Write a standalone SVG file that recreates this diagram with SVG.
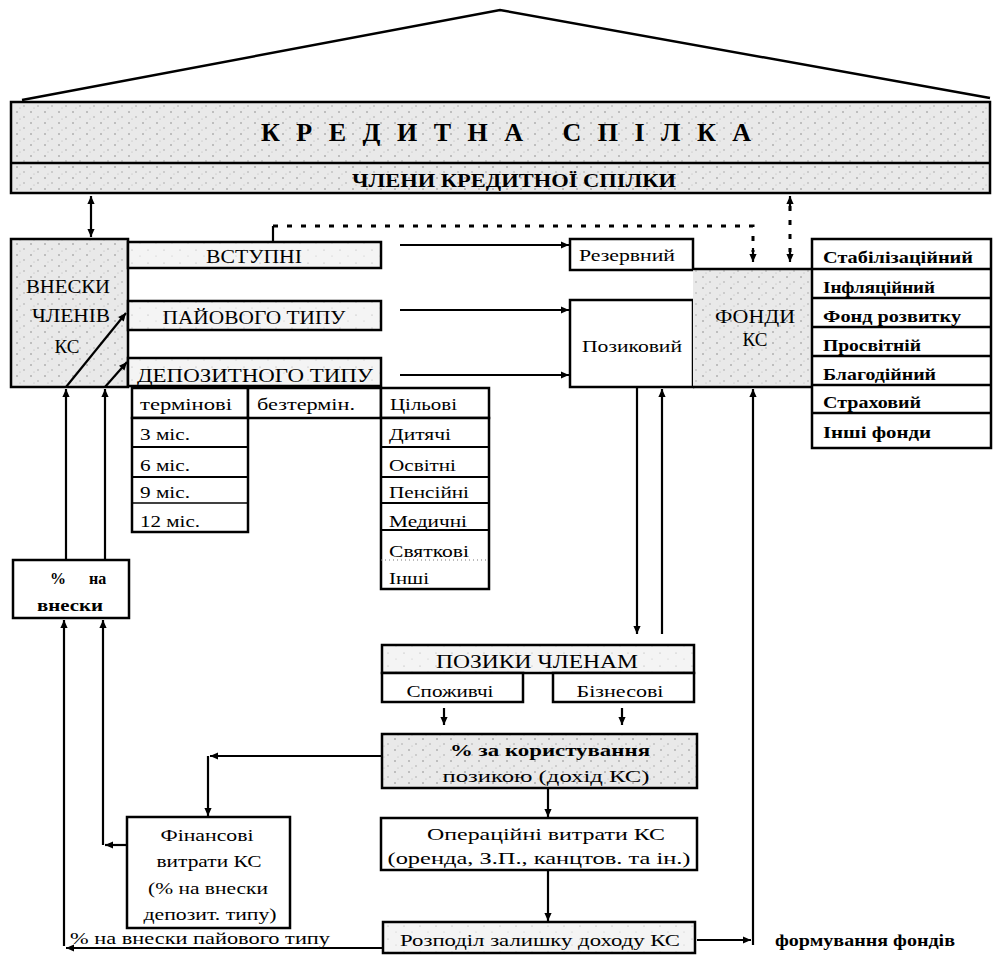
<svg xmlns="http://www.w3.org/2000/svg" width="995" height="955" viewBox="0 0 995 955">
<defs>
<pattern id="sp" width="14" height="11" patternUnits="userSpaceOnUse"><rect width="14" height="11" fill="#e9e9e9"/><circle cx="3" cy="2" r="0.8" fill="#888"/><circle cx="10" cy="7" r="0.7" fill="#999"/><circle cx="6" cy="9" r="0.5" fill="#aaa"/></pattern>
<pattern id="sl" width="16" height="13" patternUnits="userSpaceOnUse"><rect width="16" height="13" fill="#f4f4f4"/><circle cx="4" cy="3" r="0.6" fill="#aaa"/><circle cx="12" cy="9" r="0.5" fill="#bbb"/></pattern>
<marker id="ah" viewBox="0 0 10 10" refX="10" refY="5" markerWidth="10" markerHeight="8" markerUnits="userSpaceOnUse" orient="auto-start-reverse"><path d="M0,0.5 L10,5 L0,9.5 z" fill="#000"/></marker>
</defs>
<style>
.b{fill:#fff;stroke:#000;stroke-width:2.5}
.s{fill:url(#sp);stroke:#000;stroke-width:2.5}
.l{fill:url(#sl);stroke:#000;stroke-width:2.5}
.c{fill:none;stroke:#000;stroke-width:2.2}
.d{fill:none;stroke:#000;stroke-width:3;stroke-dasharray:5 9}
.a{marker-end:url(#ah)}
text{font-family:"Liberation Serif","Times New Roman",serif;fill:#000;font-size:17px}
.m{text-anchor:middle}
.bd{font-weight:bold}
.f15{font-size:15px}
.f16{font-size:16px}
.f18{font-size:18px}
.f19{font-size:19px}
.f26{font-size:26px}
</style>
<rect width="995" height="955" fill="#fff"/>

<g id="roof">
<polyline points="22,100 500,10 990,98" fill="none" stroke="#000" stroke-width="2.5"/>
</g>

<g id="credit-union">
<rect class="s" x="11" y="102" width="979" height="91" stroke-width="3"/>
<line x1="11" y1="163" x2="990" y2="163" stroke="#000" stroke-width="2.5"/>
<text class="m bd f26" x="506" y="141" textLength="490" lengthAdjust="spacing">КРЕДИТНА СПІЛКА</text>
<text class="m bd f18" x="514" y="187" textLength="324" lengthAdjust="spacingAndGlyphs">ЧЛЕНИ КРЕДИТНОЇ СПІЛКИ</text>
</g>

<g id="contributions">
<rect class="s" x="11" y="239" width="117" height="148"/>
<text class="m f19" x="68" y="293" textLength="84" lengthAdjust="spacingAndGlyphs">ВНЕСКИ</text>
<text class="m f19" x="71" y="322" textLength="78" lengthAdjust="spacingAndGlyphs">ЧЛЕНІВ</text>
<text class="m f19" x="67" y="353">КС</text>
</g>

<g id="entry">
<rect class="l" x="128" y="242" width="253" height="26"/>
<text class="m f19" x="254" y="263" textLength="96" lengthAdjust="spacingAndGlyphs">ВСТУПНІ</text>
</g>
<g id="share">
<rect class="l" x="128" y="301" width="253" height="29"/>
<text class="m f19" x="254" y="324" textLength="183" lengthAdjust="spacingAndGlyphs">ПАЙОВОГО ТИПУ</text>
</g>
<g id="deposit">
<rect class="l" x="128" y="358" width="253" height="28"/>
<text class="m f19" x="255" y="382" textLength="236" lengthAdjust="spacingAndGlyphs">ДЕПОЗИТНОГО ТИПУ</text>
</g>

<g id="deposit-table">
<rect class="b" x="132" y="388" width="116" height="30"/>
<rect class="b" x="248" y="388" width="133" height="30"/>
<rect class="b" x="381" y="388" width="108" height="30"/>
<rect class="b" x="132" y="418" width="116" height="114"/>
<line x1="132" y1="447" x2="248" y2="447" stroke="#000" stroke-width="2"/>
<line x1="132" y1="477" x2="248" y2="477" stroke="#000" stroke-width="2"/>
<line x1="132" y1="503" x2="248" y2="503" stroke="#000" stroke-width="1.5"/>
<rect class="b" x="381" y="418" width="108" height="171"/>
<line x1="381" y1="447" x2="489" y2="447" stroke="#000" stroke-width="2"/>
<line x1="381" y1="477" x2="489" y2="477" stroke="#000" stroke-width="2"/>
<line x1="381" y1="503" x2="489" y2="503" stroke="#000" stroke-width="2"/>
<line x1="381" y1="530" x2="489" y2="530" stroke="#000" stroke-width="2"/>
<line x1="381" y1="560" x2="489" y2="560" stroke="#777" stroke-width="1" stroke-dasharray="1 3"/>
<text x="140" y="410" textLength="92" lengthAdjust="spacingAndGlyphs">термінові</text>
<text x="257" y="410" textLength="98" lengthAdjust="spacingAndGlyphs">безтермін.</text>
<text x="390" y="410" textLength="67" lengthAdjust="spacingAndGlyphs">Цільові</text>
<text x="140" y="440" textLength="50" lengthAdjust="spacingAndGlyphs">3 міс.</text>
<text x="140" y="471" textLength="50" lengthAdjust="spacingAndGlyphs">6 міс.</text>
<text x="140" y="498" textLength="50" lengthAdjust="spacingAndGlyphs">9 міс.</text>
<text x="140" y="527" textLength="60" lengthAdjust="spacingAndGlyphs">12 міс.</text>
<text x="389" y="440" textLength="62" lengthAdjust="spacingAndGlyphs">Дитячі</text>
<text x="389" y="471" textLength="67" lengthAdjust="spacingAndGlyphs">Освітні</text>
<text x="389" y="498" textLength="80" lengthAdjust="spacingAndGlyphs">Пенсійні</text>
<text x="389" y="527" textLength="78" lengthAdjust="spacingAndGlyphs">Медичні</text>
<text x="389" y="557" textLength="80" lengthAdjust="spacingAndGlyphs">Святкові</text>
<text x="389" y="584" textLength="40" lengthAdjust="spacingAndGlyphs">Інші</text>
</g>

<g id="reserve">
<rect class="b" x="570" y="239" width="123" height="31"/>
<text class="m" x="627" y="261" textLength="96" lengthAdjust="spacingAndGlyphs">Резервний</text>
</g>
<g id="loan-fund">
<rect class="b" x="570" y="300" width="123" height="87"/>
<text class="m" x="632" y="352" textLength="100" lengthAdjust="spacingAndGlyphs">Позиковий</text>
</g>
<g id="funds">
<rect x="693" y="269" width="119" height="118" fill="url(#sp)"/>
<line x1="693" y1="269" x2="812" y2="269" stroke="#000" stroke-width="2.5"/>
<line x1="693" y1="387" x2="812" y2="387" stroke="#000" stroke-width="2.5"/>
<text class="m f19" x="755" y="323" textLength="80" lengthAdjust="spacingAndGlyphs">ФОНДИ</text>
<text class="m f19" x="755" y="346">КС</text>
</g>

<g id="fund-list">
<rect class="b" x="812" y="239" width="179" height="209"/>
<line x1="812" y1="269" x2="991" y2="269" stroke="#000" stroke-width="2.5"/>
<line x1="812" y1="298" x2="991" y2="298" stroke="#000" stroke-width="2.5"/>
<line x1="812" y1="327" x2="991" y2="327" stroke="#000" stroke-width="2.5"/>
<line x1="812" y1="356" x2="991" y2="356" stroke="#000" stroke-width="2.5"/>
<line x1="812" y1="385" x2="991" y2="385" stroke="#000" stroke-width="2.5"/>
<line x1="812" y1="413" x2="991" y2="413" stroke="#000" stroke-width="2.5"/>
<text class="bd f16" x="823" y="263" textLength="150" lengthAdjust="spacingAndGlyphs">Стабілізаційний</text>
<text class="bd f16" x="823" y="293" textLength="112" lengthAdjust="spacingAndGlyphs">Інфляційний</text>
<text class="bd f16" x="823" y="322" textLength="138" lengthAdjust="spacingAndGlyphs">Фонд розвитку</text>
<text class="bd f16" x="823" y="351" textLength="98" lengthAdjust="spacingAndGlyphs">Просвітній</text>
<text class="bd f16" x="823" y="380" textLength="113" lengthAdjust="spacingAndGlyphs">Благодійний</text>
<text class="bd f16" x="823" y="408" textLength="98" lengthAdjust="spacingAndGlyphs">Страховий</text>
<text class="bd f16" x="823" y="438" textLength="108" lengthAdjust="spacingAndGlyphs">Інші фонди</text>
</g>

<g id="interest-on-contributions">
<rect class="b" x="13" y="560" width="116" height="58"/>
<text class="bd f16" x="50" y="584">%</text>
<text class="bd f16" x="89" y="584">на</text>
<text class="m bd f16" x="70" y="611" textLength="66" lengthAdjust="spacingAndGlyphs">внески</text>
</g>

<g id="member-loans">
<rect class="l" x="382" y="645" width="312" height="28"/>
<text class="m f19" x="537" y="668" textLength="202" lengthAdjust="spacingAndGlyphs">ПОЗИКИ ЧЛЕНАМ</text>
</g>
<g id="consumer">
<rect class="b" x="382" y="673" width="141" height="29"/>
<text class="m" x="450" y="697" textLength="87" lengthAdjust="spacingAndGlyphs">Споживчі</text>
</g>
<g id="business">
<rect class="b" x="553" y="673" width="141" height="29"/>
<text class="m" x="620" y="697" textLength="87" lengthAdjust="spacingAndGlyphs">Бізнесові</text>
</g>

<g id="loan-interest">
<rect class="s" x="382" y="734" width="315" height="54"/>
<text class="m bd f16" x="550" y="756" textLength="200" lengthAdjust="spacingAndGlyphs">% за користування</text>
<text class="m" x="546" y="782" textLength="207" lengthAdjust="spacingAndGlyphs">позикою (дохід КС)</text>
</g>

<g id="operating-costs">
<rect class="b" x="381" y="818" width="316" height="52"/>
<text class="m" x="546" y="840" textLength="238" lengthAdjust="spacingAndGlyphs">Операційні витрати КС</text>
<text class="m" x="539" y="864" textLength="303" lengthAdjust="spacingAndGlyphs">(оренда, З.П., канцтов. та ін.)</text>
</g>

<g id="distribution">
<rect class="l" x="383" y="922" width="312" height="31"/>
<text class="m" x="540" y="946" textLength="280" lengthAdjust="spacingAndGlyphs">Розподіл залишку доходу КС</text>
</g>

<g id="financial-costs">
<rect class="b" x="127" y="817" width="163" height="111"/>
<text class="m" x="207" y="841" textLength="93" lengthAdjust="spacingAndGlyphs">Фінансові</text>
<text class="m" x="209" y="867" textLength="105" lengthAdjust="spacingAndGlyphs">витрати КС</text>
<text class="m" x="208" y="894" textLength="120" lengthAdjust="spacingAndGlyphs">(% на внески</text>
<text class="m" x="210" y="920" textLength="133" lengthAdjust="spacingAndGlyphs">депозит. типу)</text>
</g>

<g id="labels">
<text x="70" y="944" textLength="260" lengthAdjust="spacingAndGlyphs">% на внески пайового типу</text>
<text class="bd" x="775" y="946" textLength="180" lengthAdjust="spacingAndGlyphs">формування фондів</text>
</g>

<g id="connectors">
<path class="c a" d="M91,196 V237" marker-start="url(#ah)"/>
<path class="c" d="M273,242 V226"/>
<path class="d" d="M273,226 H753 V252"/>
<path class="c a" d="M753,248 V262"/>
<path class="d" d="M790,206 V252"/>
<path class="c a" d="M790,210 V196"/>
<path class="c a" d="M790,248 V262"/>
<path class="c a" d="M400,245 H569"/>
<path class="c a" d="M400,310 H569"/>
<path class="c a" d="M400,375 H569"/>
<path class="c a" d="M637,387 V634"/>
<path class="c a" d="M662,634 V389"/>
<path class="c a" d="M753,945 V389"/>
<path class="c a" d="M697,940 H751"/>
<path class="c a" d="M444,708 V725"/>
<path class="c a" d="M622,708 V725"/>
<path class="c a" d="M548,788 V817"/>
<path class="c a" d="M548,870 V921"/>
<path class="c a" d="M383,756 H210"/>
<path class="c a" d="M208,756 V816"/>
<path class="c a" d="M127,845 H105"/>
<path class="c a" d="M103,845 V620"/>
<path class="c a" d="M383,948 H66"/>
<path class="c a" d="M64,946 V620"/>
<path class="c a" d="M66,560 V389"/>
<path class="c a" d="M105,560 V389"/>
<path class="c a" d="M66,387 L126,313"/>
<path class="c a" d="M105,387 L127,362"/>
</g>
</svg>
